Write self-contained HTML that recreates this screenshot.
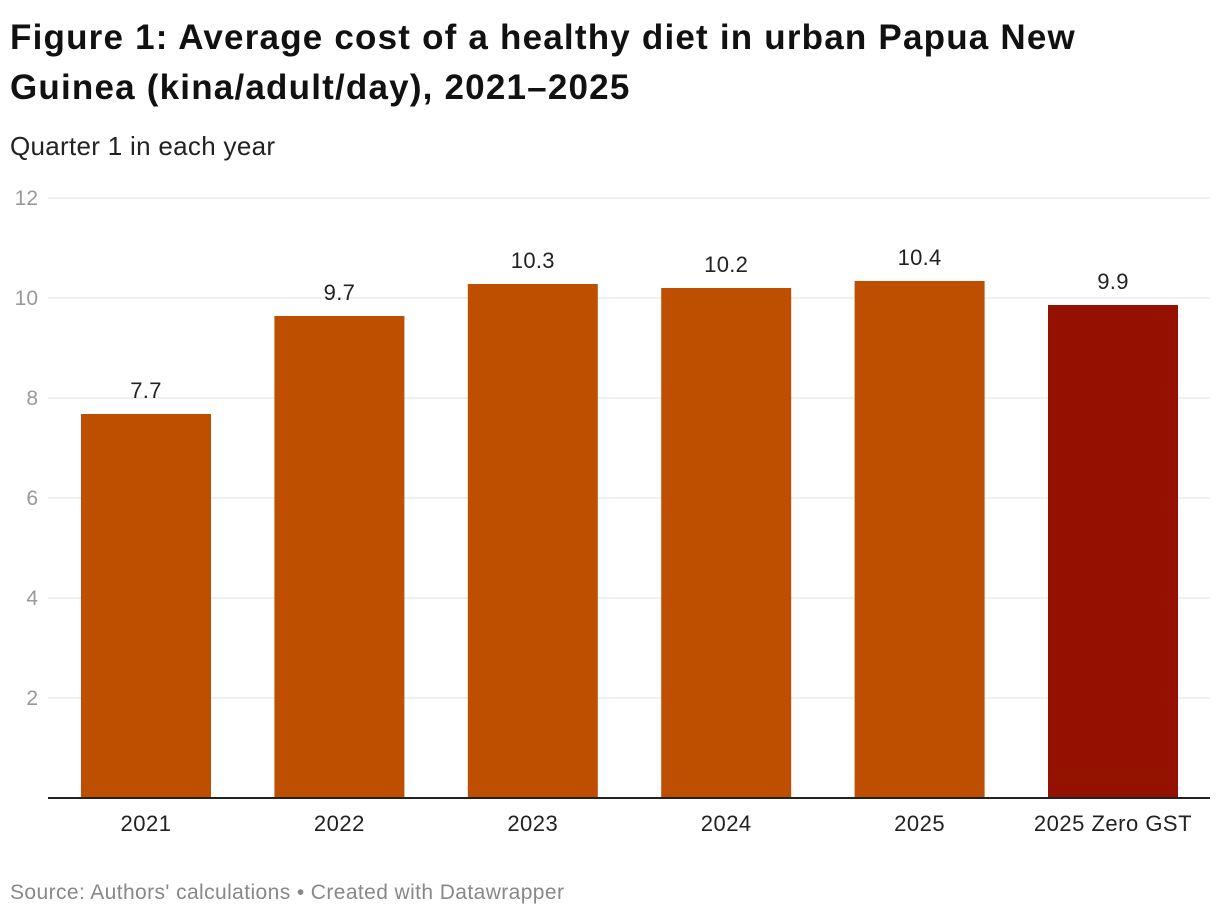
<!DOCTYPE html>
<html><head><meta charset="utf-8"><style>
body{margin:0;width:1220px;height:918px;background:#fff;font-family:"Liberation Sans",sans-serif;overflow:hidden}
h1{position:absolute;left:10px;top:13px;margin:0;font-size:35px;line-height:50px;font-weight:bold;color:#111;width:1200px;letter-spacing:1.2px;white-space:nowrap}
.sub{position:absolute;left:10px;top:131px;font-size:26px;color:#222;letter-spacing:0.3px}
.src{position:absolute;left:10px;top:881px;font-size:21px;color:#888;letter-spacing:0.4px}
svg{position:absolute;left:0;top:0}
</style></head><body>
<h1>Figure 1: Average cost of a healthy diet in urban Papua New<br>Guinea (kina/adult/day), 2021–2025</h1>
<div class="sub">Quarter 1 in each year</div>
<svg id="chart" width="1220" height="918"></svg>
<div class="src">Source: Authors' calculations • Created with Datawrapper</div>
<script>
const categories=["2021","2022","2023","2024","2025","2025 Zero GST"];
const values=[7.68,9.64,10.28,10.2,10.34,9.86];
const valueLabels=["7.7","9.7","10.3","10.2","10.4","9.9"];
const yTicks=[2,4,6,8,10,12];
const ns="http://www.w3.org/2000/svg";
const svg=document.getElementById("chart");
const y=v=>798-v*50;
const x0=81,step=193.4,bw=130;
const xc=i=>x0+i*step+bw/2;
function mk(t,a){const e=document.createElementNS(ns,t);for(const k in a)e.setAttribute(k,a[k]);svg.appendChild(e);return e;}
yTicks.forEach(t=>{
 const l=mk("line",{x1:48,x2:1210,y1:y(t),y2:y(t),stroke:"#e0e0e0","stroke-width":1});
 
 
 const tx=mk("text",{x:38,y:y(t)+7,"text-anchor":"end","font-size":21,fill:"#999"});
 tx.textContent=t;
 
 
});
categories.forEach((c,i)=>{
 const r=mk("rect",{x:xc(i)-bw/2,y:y(values[i]),width:bw,height:values[i]*50,fill:i===5?"#941100":"#bf4f00"});
 
 
 const v=mk("text",{x:xc(i),y:y(values[i])-16,"text-anchor":"middle","font-size":22,fill:"#222","letter-spacing":0.3});
 v.textContent=valueLabels[i];
 
 
 const lb=mk("text",{x:xc(i),y:831,"text-anchor":"middle","font-size":22,fill:"#222","letter-spacing":0.5});
 lb.textContent=c;
 
 
});
const b=mk("line",{x1:48,x2:1210,y1:798,y2:798,stroke:"#222","stroke-width":2});


</script>
</body></html>
